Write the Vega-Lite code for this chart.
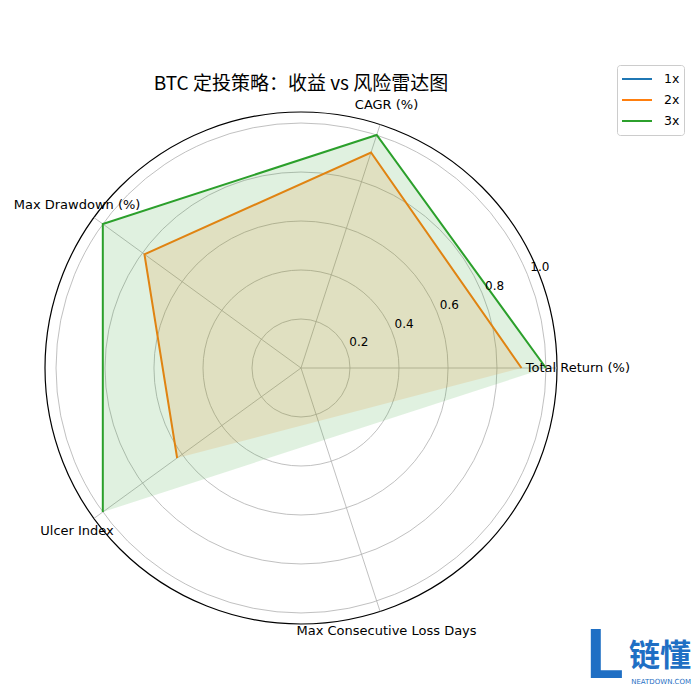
{
  "$schema": "https://vega.github.io/schema/vega-lite/v6.json",
  "width": 512,
  "height": 512,
  "autosize": "none",
  "padding": {"left": 45, "top": 112, "right": 143, "bottom": 76},
  "background": "white",
  "config": {"view": {"stroke": null}, "font": "DejaVu Sans"},
  "title": {
    "text": "BTC 定投策略：收益 vs 风险雷达图",
    "font": "Noto Sans CJK SC",
    "fontSize": 19,
    "fontWeight": "normal",
    "color": "#000000",
    "anchor": "middle",
    "frame": "group",
    "offset": -29
  },
  "datasets": {
    "scores": [
      {"strategy": "1x", "metric": "Total Return (%)", "k": 0, "value": 0},
      {"strategy": "1x", "metric": "CAGR (%)", "k": 1, "value": 0},
      {"strategy": "1x", "metric": "Max Drawdown (%)", "k": 2, "value": 0},
      {"strategy": "1x", "metric": "Ulcer Index", "k": 3, "value": 0},
      {"strategy": "1x", "metric": "Max Consecutive Loss Days", "k": 4, "value": null},
      {"strategy": "2x", "metric": "Total Return (%)", "k": 0, "value": 0.9},
      {"strategy": "2x", "metric": "CAGR (%)", "k": 1, "value": 0.925},
      {"strategy": "2x", "metric": "Max Drawdown (%)", "k": 2, "value": 0.79},
      {"strategy": "2x", "metric": "Ulcer Index", "k": 3, "value": 0.625},
      {"strategy": "2x", "metric": "Max Consecutive Loss Days", "k": 4, "value": null},
      {"strategy": "3x", "metric": "Total Return (%)", "k": 0, "value": 1.0},
      {"strategy": "3x", "metric": "CAGR (%)", "k": 1, "value": 1.0},
      {"strategy": "3x", "metric": "Max Drawdown (%)", "k": 2, "value": 1.0},
      {"strategy": "3x", "metric": "Ulcer Index", "k": 3, "value": 1.0},
      {"strategy": "3x", "metric": "Max Consecutive Loss Days", "k": 4, "value": null}
    ],
    "metrics": [
      {"metric": "Total Return (%)", "k": 0},
      {"metric": "CAGR (%)", "k": 1},
      {"metric": "Max Drawdown (%)", "k": 2},
      {"metric": "Ulcer Index", "k": 3},
      {"metric": "Max Consecutive Loss Days", "k": 4}
    ],
    "rings": [
      {"r": 0.2}, {"r": 0.4}, {"r": 0.6}, {"r": 0.8}, {"r": 1.0}
    ],
    "outer": [{"r": 1.045}],
    "brand": [
      {"text": "链懂", "bx": 1.465, "by": -1.18},
      {"text": "NEATDOWN.COM", "bx": 1.47, "by": -1.282},
      {"text": "L", "bx": 1.24, "by": -1.265}
    ]
  },
  "layer": [
    {
      "data": {"name": "rings"},
      "mark": {"type": "arc", "theta": 0, "theta2": 6.3, "filled": false, "stroke": "#b0b0b0", "strokeWidth": 0.8},
      "encoding": {
        "radius": {"field": "r", "type": "quantitative", "stack": null, "scale": {"type": "linear", "domain": [0, 1.045], "range": [0, 256], "zero": true}}
      }
    },
    {
      "data": {"name": "outer"},
      "mark": {"type": "arc", "theta": 0, "theta2": 6.3, "filled": false, "stroke": "#000000", "strokeWidth": 1.2},
      "encoding": {
        "radius": {"field": "r", "type": "quantitative", "stack": null, "scale": {"type": "linear", "domain": [0, 1.045], "range": [0, 256], "zero": true}}
      }
    },
    {
      "data": {"name": "metrics"},
      "transform": [
        {"calculate": "0", "as": "cx"},
        {"calculate": "1.045 * cos(datum.k * 2 * PI / 5)", "as": "ex"},
        {"calculate": "1.045 * sin(datum.k * 2 * PI / 5)", "as": "ey"}
      ],
      "mark": {"type": "rule", "stroke": "#b0b0b0", "strokeWidth": 0.8},
      "encoding": {
        "x": {"field": "cx", "type": "quantitative", "scale": {"domain": [-1.045, 1.045], "nice": false, "zero": false}, "axis": null},
        "y": {"field": "cx", "type": "quantitative", "scale": {"domain": [-1.045, 1.045], "nice": false, "zero": false}, "axis": null},
        "x2": {"field": "ex"},
        "y2": {"field": "ey"}
      }
    },
    {
      "data": {"name": "scores"},
      "transform": [
        {"filter": "datum.value != null"},
        {"calculate": "datum.value * cos(datum.k * 2 * PI / 5)", "as": "px"},
        {"calculate": "datum.value * sin(datum.k * 2 * PI / 5)", "as": "py"}
      ],
      "mark": {"type": "line", "strokeWidth": 2},
      "encoding": {
        "x": {"field": "px", "type": "quantitative", "scale": {"domain": [-1.045, 1.045], "nice": false, "zero": false}, "axis": null},
        "y": {"field": "py", "type": "quantitative", "scale": {"domain": [-1.045, 1.045], "nice": false, "zero": false}, "axis": null},
        "order": {"field": "k", "type": "quantitative"},
        "color": {
          "field": "strategy", "type": "nominal",
          "scale": {"domain": ["1x", "2x", "3x"], "range": ["#1f77b4", "#ff7f0e", "#2ca02c"]},
          "legend": {
            "title": null, "orient": "none", "legendX": 572, "legendY": -47,
            "symbolType": "stroke", "symbolStrokeWidth": 2, "symbolSize": 900,
            "clipHeight": 20,
            "labelFont": "DejaVu Sans", "labelFontSize": 12.5, "labelColor": "#000000", "labelOffset": 11,
            "rowPadding": 1, "padding": 4, "strokeColor": "#cccccc", "fillColor": "#ffffff", "cornerRadius": 3
          }
        }
      }
    },
    {
      "data": {"name": "scores"},
      "transform": [
        {"filter": "datum.value != null"},
        {"calculate": "datum.value * cos(datum.k * 2 * PI / 5)", "as": "px"},
        {"calculate": "datum.value * sin(datum.k * 2 * PI / 5)", "as": "py"}
      ],
      "mark": {"type": "line", "interpolate": "linear-closed", "fillOpacity": 0.15, "strokeOpacity": 0, "strokeWidth": 0},
      "encoding": {
        "x": {"field": "px", "type": "quantitative", "scale": {"domain": [-1.045, 1.045], "nice": false, "zero": false}, "axis": null},
        "y": {"field": "py", "type": "quantitative", "scale": {"domain": [-1.045, 1.045], "nice": false, "zero": false}, "axis": null},
        "order": {"field": "k", "type": "quantitative"},
        "fill": {
          "field": "strategy", "type": "nominal",
          "scale": {"domain": ["1x", "2x", "3x"], "range": ["#1f77b4", "#ff7f0e", "#2ca02c"]},
          "legend": null
        }
      }
    },
    {
      "data": {"name": "rings"},
      "transform": [
        {"calculate": "datum.r * 0.92388", "as": "tx"},
        {"calculate": "datum.r * 0.38268", "as": "ty"}
      ],
      "mark": {"type": "text", "align": "left", "baseline": "bottom", "dx": 3, "dy": 0, "fontSize": 12, "color": "#000000"},
      "encoding": {
        "x": {"field": "tx", "type": "quantitative", "scale": {"domain": [-1.045, 1.045], "nice": false, "zero": false}, "axis": null},
        "y": {"field": "ty", "type": "quantitative", "scale": {"domain": [-1.045, 1.045], "nice": false, "zero": false}, "axis": null},
        "text": {"field": "r", "type": "quantitative", "format": ".1f"}
      }
    },
    {
      "data": {"name": "metrics"},
      "transform": [
        {"calculate": "1.13 * cos(datum.k * 2 * PI / 5)", "as": "lx"},
        {"calculate": "1.13 * sin(datum.k * 2 * PI / 5)", "as": "ly"}
      ],
      "mark": {"type": "text", "align": "center", "baseline": "middle", "fontSize": 13, "color": "#000000"},
      "encoding": {
        "x": {"field": "lx", "type": "quantitative", "scale": {"domain": [-1.045, 1.045], "nice": false, "zero": false}, "axis": null},
        "y": {"field": "ly", "type": "quantitative", "scale": {"domain": [-1.045, 1.045], "nice": false, "zero": false}, "axis": null},
        "text": {"field": "metric", "type": "nominal"}
      }
    },
    {
      "data": {"name": "brand"},
      "transform": [{"filter": "datum.text == '链懂'"}],
      "mark": {"type": "text", "align": "center", "baseline": "middle", "color": "#1f6fc4", "font": "Noto Sans CJK SC", "fontWeight": "bold", "fontSize": 31},
      "encoding": {
        "x": {"field": "bx", "type": "quantitative", "scale": {"domain": [-1.045, 1.045], "nice": false, "zero": false}, "axis": null},
        "y": {"field": "by", "type": "quantitative", "scale": {"domain": [-1.045, 1.045], "nice": false, "zero": false}, "axis": null},
        "text": {"field": "text", "type": "nominal"}
      }
    },
    {
      "data": {"name": "brand"},
      "transform": [{"filter": "datum.text == 'NEATDOWN.COM'"}],
      "mark": {"type": "text", "align": "center", "baseline": "middle", "color": "#1f6fc4", "font": "DejaVu Sans", "fontSize": 7},
      "encoding": {
        "x": {"field": "bx", "type": "quantitative", "scale": {"domain": [-1.045, 1.045], "nice": false, "zero": false}, "axis": null},
        "y": {"field": "by", "type": "quantitative", "scale": {"domain": [-1.045, 1.045], "nice": false, "zero": false}, "axis": null},
        "text": {"field": "text", "type": "nominal"}
      }
    },
    {
      "data": {"name": "brand"},
      "transform": [{"filter": "datum.text == 'L'"}],
      "mark": {"type": "text", "align": "center", "baseline": "alphabetic", "color": "#1f6fc4", "font": "Roboto", "fontWeight": "bold", "fontSize": 68},
      "encoding": {
        "x": {"field": "bx", "type": "quantitative", "scale": {"domain": [-1.045, 1.045], "nice": false, "zero": false}, "axis": null},
        "y": {"field": "by", "type": "quantitative", "scale": {"domain": [-1.045, 1.045], "nice": false, "zero": false}, "axis": null},
        "text": {"field": "text", "type": "nominal"}
      }
    }
  ]
}
